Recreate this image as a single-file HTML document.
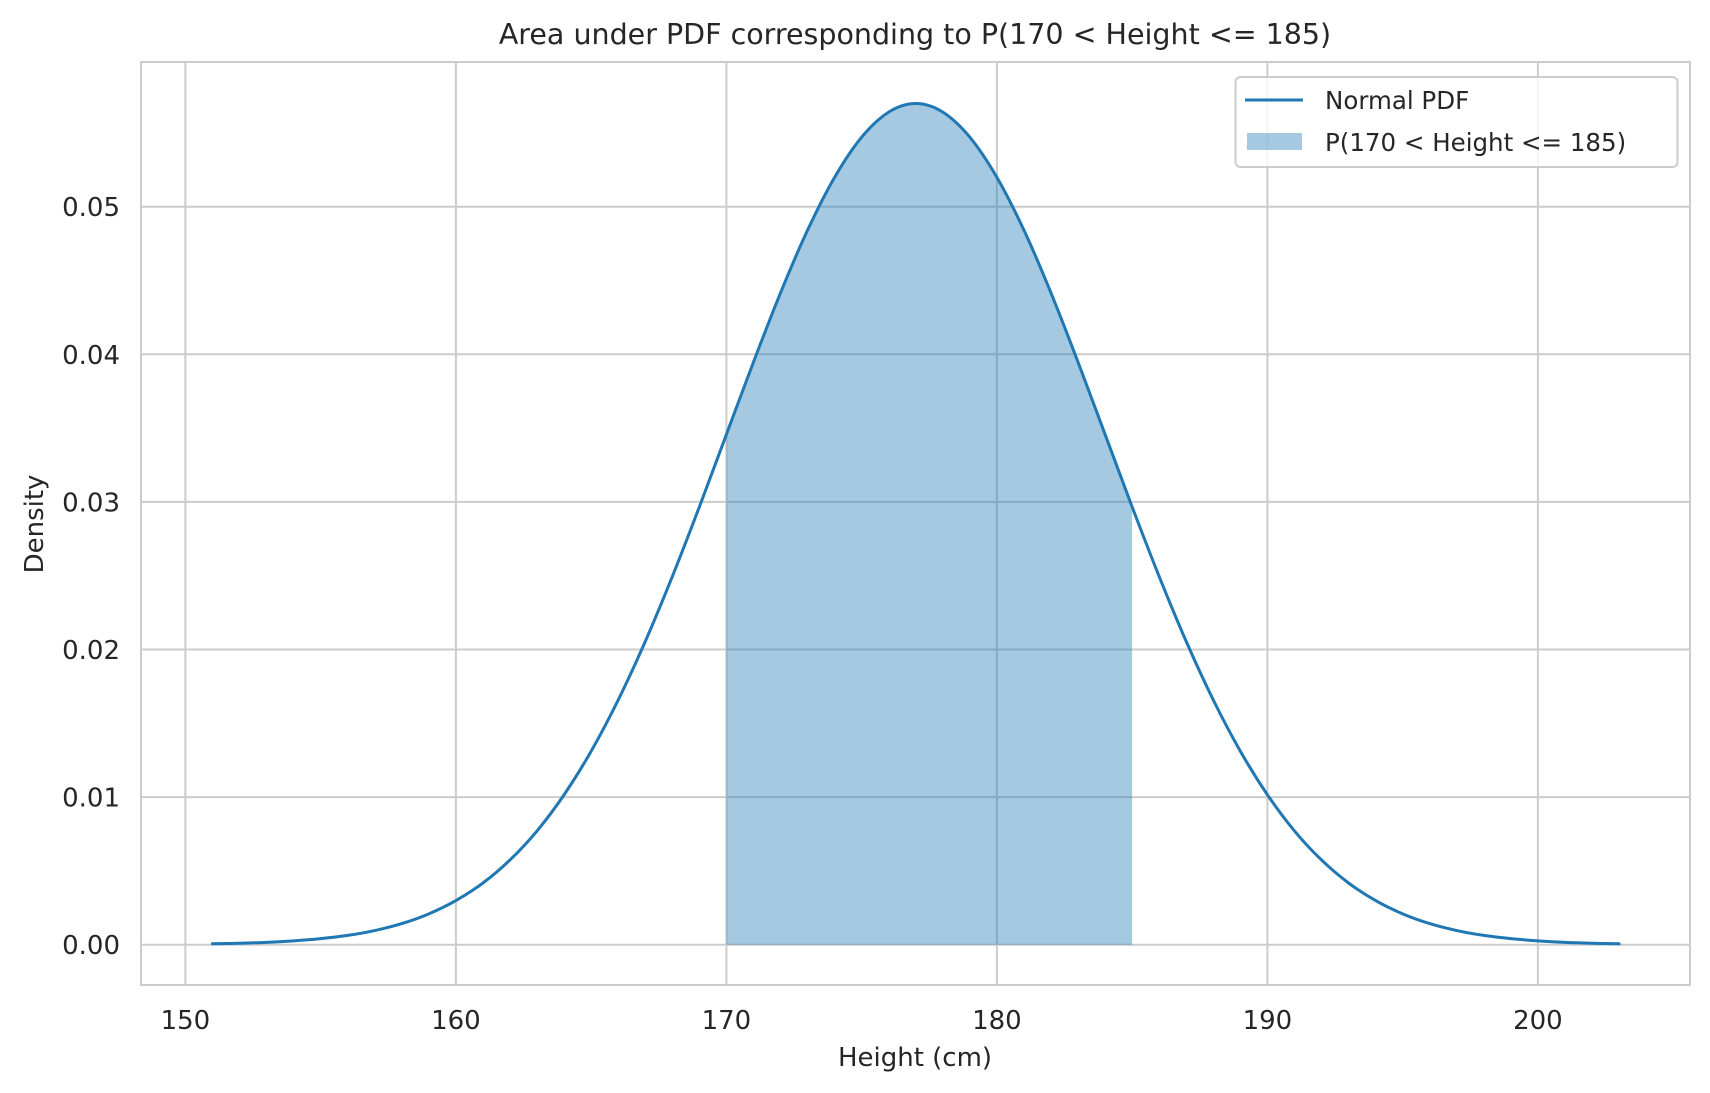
<!DOCTYPE html>
<html><head><meta charset="utf-8"><style>
html,body{margin:0;padding:0;background:#fff;}
svg{display:block;font-family:"DejaVu Sans","Liberation Sans",sans-serif;}
</style></head><body>
<svg id="chart" width="1710" height="1093" viewBox="0 0 1710 1093" xmlns="http://www.w3.org/2000/svg">
<rect x="0" y="0" width="1710" height="1093" fill="#fff"/>
<g id="grid"></g>
<g id="fill"></g>
<g id="line"></g>
<rect x="141" y="62" width="1549" height="923" fill="none" stroke="#cccccc" stroke-width="2"/>
<g id="ticks"></g>
<text x="915" y="44" text-anchor="middle" font-size="28.5" fill="#262626">Area under PDF corresponding to P(170 &lt; Height &lt;= 185)</text>
<text x="915" y="1066" text-anchor="middle" font-size="26" fill="#262626">Height (cm)</text>
<text transform="translate(43,524) rotate(-90)" text-anchor="middle" font-size="26" fill="#262626">Density</text>
<g>
<rect x="1235.5" y="77" width="442" height="90" rx="5" fill="#fff" fill-opacity="0.8" stroke="#cccccc" stroke-width="2"/>
<line x1="1245" y1="100" x2="1303" y2="100" stroke="#1f77b4" stroke-width="3"/>
<text x="1325" y="109" font-size="24.5" fill="#262626">Normal PDF</text>
<rect x="1247" y="133" width="55" height="17" fill="#1f77b4" fill-opacity="0.4"/>
<text x="1325" y="151" font-size="24.5" fill="#262626">P(170 &lt; Height &lt;= 185)</text>
</g>
</svg>
<script>
const heights = [151,152,153,154,155,156,157,158,159,160,161,162,163,164,165,166,167,168,169,170,171,172,173,174,175,176,177,178,179,180,181,182,183,184,185,186,187,188,189,190,191,192,193,194,195,196,197,198,199,200,201,202,203];
const densities = [0.00006,0.0001,0.00016,0.00026,0.00041,0.00063,0.00096,0.00143,0.00209,0.00299,0.00418,0.00574,0.00771,0.01016,0.01311,0.01658,0.02054,0.02494,0.02966,0.03457,0.03947,0.04416,0.04841,0.05199,0.05471,0.05641,0.05699,0.05641,0.05471,0.05199,0.04841,0.04416,0.03947,0.03457,0.02966,0.02494,0.02054,0.01658,0.01311,0.01016,0.00771,0.00574,0.00418,0.00299,0.00209,0.00143,0.00096,0.00063,0.00041,0.00026,0.00016,0.0001,0.00006];
const xTicks = [150,160,170,180,190,200];
const yTicks = [0,0.01,0.02,0.03,0.04,0.05];
const yTickLabels = ["0.00","0.01","0.02","0.03","0.04","0.05"];
const rangeLow = 170;
const rangeHigh = 185;

const NS = "http://www.w3.org/2000/svg";
function sx(v){ return 185.4 + (v - 150) * 27.05; }
function sy(v){ return 944.7 - v * 14760; }
function mk(tag, attrs, parent){
  const e = document.createElementNS(NS, tag);
  for (const k in attrs) e.setAttribute(k, attrs[k]);
  parent.appendChild(e);
  return e;
}
const grid = document.getElementById('grid');
const ticks = document.getElementById('ticks');
xTicks.forEach(t => {
  const l = mk('line', {x1:sx(t), x2:sx(t), y1:62, y2:985, stroke:'#cccccc', 'stroke-width':2}, grid);
  
  
  const tx = mk('text', {x:sx(t), y:1029, 'text-anchor':'middle', 'font-size':26, fill:'#262626'}, ticks);
  tx.textContent = t;
  
  
});
yTicks.forEach((t, i) => {
  const l = mk('line', {x1:141, x2:1690, y1:sy(t), y2:sy(t), stroke:'#cccccc', 'stroke-width':2}, grid);
  
  
  const tx = mk('text', {x:120, y:sy(t) + 9.5, 'text-anchor':'end', 'font-size':26, fill:'#262626'}, ticks);
  tx.textContent = yTickLabels[i];
  
  
});
function smoothPath(pts){
  let d = 'M' + pts[0][0].toFixed(2) + ',' + pts[0][1].toFixed(2);
  for (let i = 0; i < pts.length - 1; i++){
    const p0 = pts[Math.max(0, i-1)], p1 = pts[i], p2 = pts[i+1], p3 = pts[Math.min(pts.length-1, i+2)];
    const c1x = p1[0] + (p2[0]-p0[0])/6, c1y = p1[1] + (p2[1]-p0[1])/6;
    const c2x = p2[0] - (p3[0]-p1[0])/6, c2y = p2[1] - (p3[1]-p1[1])/6;
    d += 'C' + c1x.toFixed(2)+','+c1y.toFixed(2)+' '+c2x.toFixed(2)+','+c2y.toFixed(2)+' '+p2[0].toFixed(2)+','+p2[1].toFixed(2);
  }
  return d;
}
const pts = heights.map((h, i) => [sx(h), sy(densities[i])]);
const fpts = [];
heights.forEach((h, i) => { if (h >= rangeLow && h <= rangeHigh) fpts.push([sx(h), sy(densities[i])]); });
if (fpts.length > 1){
  const fd = smoothPath(fpts) + 'L' + fpts[fpts.length-1][0].toFixed(2) + ',' + sy(0) + 'L' + fpts[0][0].toFixed(2) + ',' + sy(0) + 'Z';
  const fp = mk('path', {d:fd, fill:'#1f77b4', 'fill-opacity':0.4}, document.getElementById('fill'));
  
  
}
const lp = mk('path', {d:smoothPath(pts), fill:'none', stroke:'#1f77b4', 'stroke-width':3, 'stroke-linejoin':'round', 'stroke-linecap':'round'}, document.getElementById('line'));


</script>
</body></html>
